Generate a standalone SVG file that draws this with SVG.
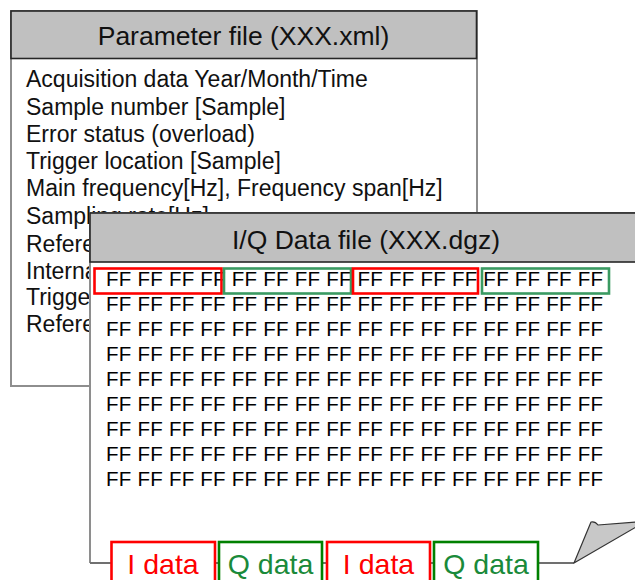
<svg xmlns="http://www.w3.org/2000/svg" width="635" height="580" viewBox="0 0 635 580">
  <style>
    .t { font-family: "Liberation Sans", Arial, sans-serif; fill: #111; }
    .title { font-size: 26.5px; text-anchor: middle; }
    .body { font-size: 23px; }
    .ff { font-size: 20.5px; fill: #000; }
    .hdr { fill: #c0c0c0; stroke: #262626; stroke-width: 1.6; }
    .frame { fill: #fff; stroke: #8e8e8e; stroke-width: 2; }
    .redbox { fill: none; stroke: #ff0000; stroke-width: 2.6; }
    .grnbox { fill: none; stroke: #3a9a62; stroke-width: 2.6; }
    .lbl { font-family: "Liberation Sans", Arial, sans-serif; font-size: 28.5px; text-anchor: middle; }
  </style>

  <g id="parameter-file">
    <rect class="frame" x="11" y="11" width="466" height="375"/>
    <rect class="hdr" x="11" y="11" width="465.5" height="47.5"/>
    <text class="t title" x="243.5" y="45">Parameter file (XXX.xml)</text>
    <text class="t body" x="26" y="87">Acquisition data Year/Month/Time</text>
    <text class="t body" x="26" y="114.5">Sample number [Sample]</text>
    <text class="t body" x="26" y="141.8">Error status (overload)</text>
    <text class="t body" x="26" y="169">Trigger location [Sample]</text>
    <text class="t body" x="26" y="196.4">Main frequency[Hz], Frequency span[Hz]</text>
    <text class="t body" x="26" y="224">Sampling rate[Hz]</text>
    <text class="t body" x="26" y="252">Reference level</text>
    <text class="t body" x="26" y="278.5">Internal</text>
    <text class="t body" x="26" y="305">Trigger</text>
    <text class="t body" x="26" y="332">Reference</text>
  </g>

  <g id="iq-data-file">
    <rect x="90" y="213" width="560" height="350" fill="#fff"/>
    <path d="M90,563 V213 H650" fill="none" stroke="#8e8e8e" stroke-width="2"/>
    <path d="M90,563 H574" fill="none" stroke="#707070" stroke-width="2"/>
    <rect class="hdr" x="90" y="213" width="560" height="49"/>
    <text class="t title" x="366" y="249">I/Q Data file (XXX.dgz)</text>
    <path d="M574,563 L591,522 Q595,521 598,525 L636,522 L636,527 Z" fill="#c8c8c8" stroke="#333" stroke-width="1.2" stroke-linejoin="round"/>
    <g class="t ff">
      <text x="106" y="286" textLength="497" lengthAdjust="spacing">FF FF FF FF FF FF FF FF FF FF FF FF FF FF FF FF</text>
      <text x="106" y="311" textLength="497" lengthAdjust="spacing">FF FF FF FF FF FF FF FF FF FF FF FF FF FF FF FF</text>
      <text x="106" y="336" textLength="497" lengthAdjust="spacing">FF FF FF FF FF FF FF FF FF FF FF FF FF FF FF FF</text>
      <text x="106" y="361" textLength="497" lengthAdjust="spacing">FF FF FF FF FF FF FF FF FF FF FF FF FF FF FF FF</text>
      <text x="106" y="386" textLength="497" lengthAdjust="spacing">FF FF FF FF FF FF FF FF FF FF FF FF FF FF FF FF</text>
      <text x="106" y="411" textLength="497" lengthAdjust="spacing">FF FF FF FF FF FF FF FF FF FF FF FF FF FF FF FF</text>
      <text x="106" y="436" textLength="497" lengthAdjust="spacing">FF FF FF FF FF FF FF FF FF FF FF FF FF FF FF FF</text>
      <text x="106" y="461" textLength="497" lengthAdjust="spacing">FF FF FF FF FF FF FF FF FF FF FF FF FF FF FF FF</text>
      <text x="106" y="486" textLength="497" lengthAdjust="spacing">FF FF FF FF FF FF FF FF FF FF FF FF FF FF FF FF</text>
    </g>
  </g>

  <g id="first-row-markers">
    <rect class="redbox" x="94.5" y="268.5" width="127" height="25"/>
    <rect class="grnbox" x="224" y="268.5" width="127" height="25"/>
    <rect class="redbox" x="353" y="268.5" width="125" height="25"/>
    <rect class="grnbox" x="482" y="268.5" width="127" height="25"/>
  </g>

  <g id="data-labels">
    <g id="i-data-1">
      <rect x="111.5" y="542" width="103.5" height="50" fill="#fff" stroke="#ff0000" stroke-width="2.6"/>
      <text class="lbl" x="163" y="574" fill="#ff0000">I data</text>
    </g>
    <g id="q-data-1">
      <rect x="219" y="542" width="103" height="50" fill="#fff" stroke="#008000" stroke-width="2.6"/>
      <text class="lbl" x="270.5" y="574" fill="#1a8a3a">Q data</text>
    </g>
    <g id="i-data-2">
      <rect x="327" y="542" width="103" height="50" fill="#fff" stroke="#ff0000" stroke-width="2.6"/>
      <text class="lbl" x="378.5" y="574" fill="#ff0000">I data</text>
    </g>
    <g id="q-data-2">
      <rect x="434" y="542" width="104" height="50" fill="#fff" stroke="#008000" stroke-width="2.6"/>
      <text class="lbl" x="486" y="574" fill="#1a8a3a">Q data</text>
    </g>
  </g>
</svg>
